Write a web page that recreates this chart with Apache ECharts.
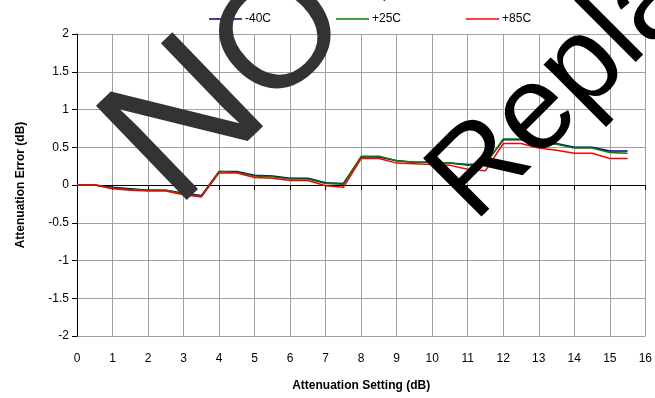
<!DOCTYPE html>
<html>
<head>
<meta charset="utf-8">
<script src="https://cdn.jsdelivr.net/npm/echarts@6/dist/echarts.min.js"></script>
<style>
  html, body { margin: 0; padding: 0; background: #fff; }
  #chart { width: 655px; height: 398px; }
</style>
</head>
<body>
<div id="chart"></div>
<script>
// Attenuation setting (dB), one point per 0.5 dB step
const settings = [0, 0.5, 1, 1.5, 2, 2.5, 3, 3.5, 4, 4.5, 5, 5.5, 6, 6.5, 7, 7.5,
                  8, 8.5, 9, 9.5, 10, 10.5, 11, 11.5, 12, 12.5, 13, 13.5, 14, 14.5, 15, 15.5];

// Attenuation error (dB) per temperature
const errMinus40 = [0, 0, -0.03, -0.05, -0.07, -0.07, -0.11, -0.14, 0.18, 0.18, 0.13, 0.12, 0.09, 0.09, 0.03, 0.02,
                    0.37, 0.37, 0.32, 0.30, 0.30, 0.29, 0.27, 0.28, 0.60, 0.60, 0.55, 0.55, 0.50, 0.50, 0.45, 0.45];
const errPlus25  = [0, 0, -0.04, -0.06, -0.07, -0.07, -0.12, -0.15, 0.18, 0.17, 0.12, 0.11, 0.08, 0.08, 0.02, 0.01,
                    0.38, 0.38, 0.32, 0.30, 0.30, 0.29, 0.26, 0.27, 0.61, 0.61, 0.55, 0.54, 0.49, 0.49, 0.43, 0.42];
const errPlus85  = [0, 0, -0.05, -0.07, -0.08, -0.08, -0.13, -0.16, 0.16, 0.16, 0.10, 0.09, 0.06, 0.06, -0.01, -0.03,
                    0.35, 0.35, 0.29, 0.28, 0.27, 0.26, 0.21, 0.19, 0.55, 0.55, 0.49, 0.46, 0.42, 0.42, 0.35, 0.35];

const seriesNames = ['-40C', '+25C', '+85C'];
const seriesColors = ['#000080', '#008000', '#ff0000'];
const seriesValues = [errMinus40, errPlus25, errPlus85];

const xTickLabels = ['0','1','2','3','4','5','6','7','8','9','10','11','12','13','14','15','16'];
const yTickLabels = ['-2','-1.5','-1','-0.5','0','0.5','1','1.5','2'];

const FONT = '"Liberation Sans", Arial, sans-serif';

const chart = echarts.init(document.getElementById('chart'), null, { renderer: 'canvas' });

const gridColor = '#a0a0a0';
const deg = Math.PI / 180;

chart.setOption({
  animation: false,
  backgroundColor: '#ffffff',
  textStyle: { fontFamily: FONT },
  grid: { left: 77, right: 8, top: 34, bottom: 62, containLabel: false },
  legend: {
    data: seriesNames,
    left: 204,
    top: 8,
    icon: 'rect',
    itemWidth: 33,
    itemHeight: 1.5,
    itemGap: 65,
    textStyle: { fontFamily: FONT, fontSize: 12, color: '#000', padding: [0, 0, 0, -2] }
  },
  xAxis: [
    {
      type: 'value', min: 0, max: 16, interval: 1,
      name: 'Attenuation Setting (dB)', nameLocation: 'middle', nameGap: 44,
      nameTextStyle: { fontFamily: FONT, fontSize: 12, fontWeight: 'bold', color: '#000' },
      axisLine: { show: false, onZero: false },
      axisTick: { show: false },
      axisLabel: {
        margin: 17, fontSize: 12, color: '#000', fontFamily: FONT,
        formatter: v => xTickLabels[Math.round(v)]
      },
      splitLine: { show: true, lineStyle: { color: gridColor, width: 1 } }
    },
    {
      type: 'value', min: 0, max: 16, interval: 1, position: 'bottom',
      axisLine: { show: true, onZero: true, lineStyle: { color: '#000', width: 1 } },
      axisTick: { show: true, inside: false, length: 5, lineStyle: { color: '#000' } },
      axisLabel: { show: false },
      splitLine: { show: false }
    }
  ],
  yAxis: {
    type: 'value', min: -2, max: 2, interval: 0.5,
    name: 'Attenuation Error (dB)', nameLocation: 'middle', nameGap: 50,
    nameTextStyle: { fontFamily: FONT, fontSize: 12, fontWeight: 'bold', color: '#000' },
    axisLine: { show: true, onZero: false, lineStyle: { color: '#000', width: 1 } },
    axisTick: { show: true, length: 5, lineStyle: { color: '#000' } },
    axisLabel: {
      margin: 8, fontSize: 12, color: '#000', fontFamily: FONT,
      formatter: v => yTickLabels[Math.round((v + 2) * 2)]
    },
    splitLine: { show: true, lineStyle: { color: gridColor, width: 1 } }
  },
  series: seriesNames.map((name, i) => ({
    name: name,
    type: 'line',
    xAxisIndex: 0,
    data: settings.map((x, k) => [x, seriesValues[i][k]]),
    showSymbol: false,
    symbol: 'none',
    lineStyle: { color: seriesColors[i], width: 1.5 },
    itemStyle: { color: seriesColors[i] },
    z: 3 + i
  })),
  // Diagonal document stamp laid over the plot
  graphic: [
    {
      type: 'text', x: 139, y: 173, rotation: 44 * deg, z: 100,
      style: {
        text: 'N', fill: '#333333',
        font: 'normal 190px ' + FONT,
        textAlign: 'left', textVerticalAlign: 'middle'
      }
    },
    {
      type: 'text', x: 239, y: 82, rotation: 44 * deg, z: 100,
      style: {
        text: 'OT RECOMMENDED', fill: '#333333',
        font: 'normal 155px ' + FONT,
        textAlign: 'left', textVerticalAlign: 'middle'
      }
    },
    {
      type: 'text', x: 451, y: 200, rotation: 45 * deg, z: 100,
      style: {
        text: 'Replaced by', fill: '#000000',
        font: 'normal 120px ' + FONT,
        textAlign: 'left', textVerticalAlign: 'middle'
      }
    }
  ]
});
</script>
</body>
</html>
